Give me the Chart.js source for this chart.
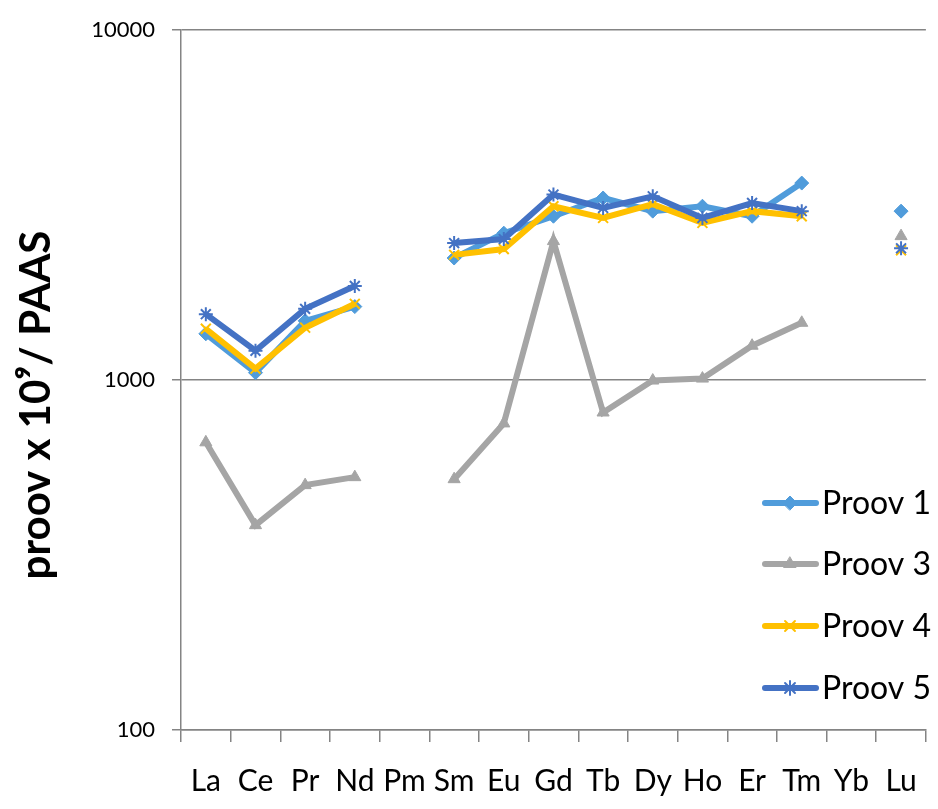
<!DOCTYPE html>
<html>
<head>
<meta charset="utf-8">
<script src="https://cdn.jsdelivr.net/npm/chart.js@4.4.0/dist/chart.umd.min.js"></script>
<style>
  html, body { margin: 0; padding: 0; background: #fff; }
  #wrap { width: 938px; height: 809px; }
</style>
</head>
<body>
<div id="wrap"><canvas id="reeChart"></canvas></div>
<script>
// REE values normalised to PAAS (Pm and Yb are missing)
const elements = ['La', 'Ce', 'Pr', 'Nd', 'Pm', 'Sm', 'Eu', 'Gd', 'Tb', 'Dy', 'Ho', 'Er', 'Tm', 'Yb', 'Lu'];
const proov1 = [1356, 1050, 1477, 1622, null, 2233, 2630, 2940, 3315, 3040, 3140, 2940, 3657, null, 3040];
const proov3 = [664, 385, 501, 528, null, 521, 752, 2496, 808, 997, 1010, 1254, 1458, null, 2579];
const proov4 = [1402, 1078, 1412, 1652, null, 2280, 2368, 3140, 2908, 3183, 2813, 3040, 2940, null, 2350];
const proov5 = [1543, 1213, 1598, 1858, null, 2464, 2529, 3390, 3105, 3352, 2908, 3207, 3040, null, 2380];
const yTicks = [100, 1000, 10000];

const FONT = 'Lato, "Liberation Sans", sans-serif';
const AXIS_GRAY = '#848484';

function makeSet(label, data, color, style, order, filled) {
    return {
        label: label,
        data: data,
        borderColor: color,
        backgroundColor: color,
        borderWidth: 6,
        pointStyle: style,
        pointRadius: 7,
        pointHoverRadius: 7,
        pointBackgroundColor: color,
        pointBorderColor: color,
        pointBorderWidth: filled ? 1 : 2,
        spanGaps: false,
        tension: 0,
        order: order
    };
}

// legend sits inside the plot, on the right
const sideLegend = {
    id: 'sideLegend',
    afterDraw(chart) {
        const ctx = chart.ctx;
        const rows = [503, 564, 626, 688];
        chart.data.datasets.forEach((ds, i) => {
            const y = rows[i];
            ctx.save();
            ctx.strokeStyle = ds.borderColor;
            ctx.lineWidth = ds.borderWidth;
            ctx.lineCap = 'round';
            ctx.beginPath();
            ctx.moveTo(765, y);
            ctx.lineTo(816, y);
            ctx.stroke();
            ctx.fillStyle = ds.pointBackgroundColor;
            ctx.strokeStyle = ds.pointBorderColor;
            ctx.lineWidth = ds.pointBorderWidth;
            Chart.helpers.drawPoint(ctx, {
                pointStyle: ds.pointStyle,
                radius: ds.pointRadius,
                borderWidth: ds.pointBorderWidth,
                rotation: 0
            }, 790, y);
            ctx.fillStyle = '#000';
            ctx.font = '32px ' + FONT;
            ctx.textAlign = 'left';
            ctx.textBaseline = 'middle';
            ctx.fillText(ds.label, 822, y + 1);
            ctx.restore();
        });
    }
};

// rotated y title, a bit below the middle of the axis like the original
const yTitle = {
    id: 'yTitle',
    afterDraw(chart) {
        const ctx = chart.ctx;
        ctx.save();
        ctx.translate(36, 405);
        ctx.rotate(-Math.PI / 2);
        ctx.fillStyle = '#000';
        ctx.font = 'bold 42px ' + FONT;
        ctx.textAlign = 'center';
        ctx.textBaseline = 'middle';
        ctx.fillText('proov x 10\u2079/ PAAS', 0, 0);
        ctx.restore();
    }
};

const ctx = document.getElementById('reeChart').getContext('2d');
const reeChart = new Chart(ctx, {
    type: 'line',
    data: {
        labels: elements,
        datasets: [
            makeSet('Proov 1', proov1, '#509cdb', 'rectRot', 4, true),
            makeSet('Proov 3', proov3, '#a5a5a5', 'triangle', 3, true),
            makeSet('Proov 4', proov4, '#ffc000', 'crossRot', 2, false),
            makeSet('Proov 5', proov5, '#4472c4', 'star', 1, false)
        ]
    },
    options: {
        responsive: true,
        maintainAspectRatio: false,
        animation: false,
        layout: { padding: { top: 28, right: 3, left: 0, bottom: 0 } },
        plugins: {
            legend: { display: false },
            tooltip: { enabled: false }
        },
        scales: {
            x: {
                type: 'category',
                offset: true,
                grid: {
                    offset: true,
                    drawOnChartArea: false,
                    drawTicks: true,
                    tickLength: 12,
                    color: AXIS_GRAY,
                    lineWidth: 1.5
                },
                border: { color: AXIS_GRAY, width: 1.5 },
                ticks: {
                    autoSkip: false,
                    maxRotation: 0,
                    padding: 21,
                    color: '#000',
                    font: { family: FONT, size: 30 }
                },
                afterFit(scale) { scale.height = 79; }
            },
            y: {
                type: 'logarithmic',
                min: 100,
                max: 10000,
                afterBuildTicks(scale) {
                    scale.ticks = yTicks.map(v => ({ value: v }));
                },
                grid: {
                    color: AXIS_GRAY,
                    lineWidth: 1.5,
                    drawTicks: true,
                    tickLength: 9
                },
                border: { color: AXIS_GRAY, width: 1.5 },
                ticks: {
                    padding: 17,
                    color: '#000',
                    font: { family: FONT, size: 22 },
                    callback: v => String(v)
                },
                afterFit(scale) { scale.width = 181; }
            }
        }
    },
    plugins: [sideLegend, yTitle]
});
</script>
</body>
</html>
